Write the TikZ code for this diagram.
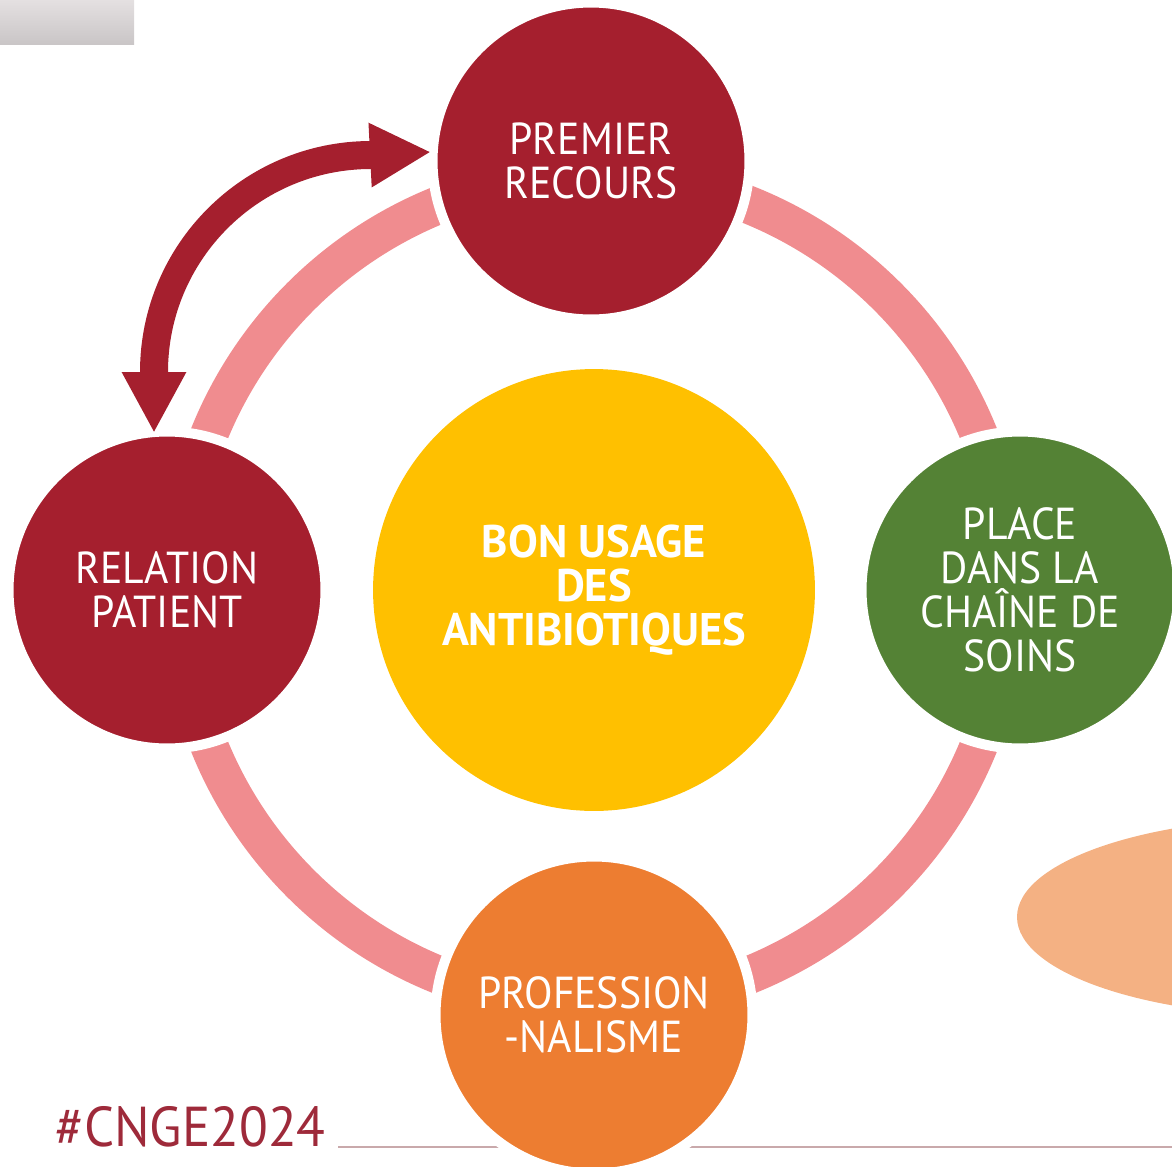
\documentclass[tikz,border=0pt]{standalone}
\usepackage{fontspec}
\setmainfont{PT Sans}
\newfontfamily\bubblefont{PT Sans}[FakeStretch=0.93]
\newfontfamily\hubfont{PT Sans}[FakeStretch=0.975]
\newfontfamily\tagfont{PT Sans}[FakeStretch=0.94]
\usetikzlibrary{arrows.meta}
\definecolor{dred}{HTML}{A51F2E}
\definecolor{ringpink}{HTML}{F08C8F}
\definecolor{dgreen}{HTML}{548235}
\definecolor{orng}{HTML}{ED7D31}
\definecolor{yell}{HTML}{FFC000}
\definecolor{peach}{HTML}{F4B183}
\definecolor{tagred}{HTML}{9E2A3A}
\definecolor{linecol}{HTML}{C9A9AB}
\definecolor{bartop}{HTML}{E4E0E1}
\definecolor{barbot}{HTML}{C9C5C6}
\tikzset{
  x=0.02cm, y=-0.02cm,
  bubble/.style={circle, minimum size=6.34cm, inner sep=0pt, draw=white, line width=0.2cm,
    text=white, align=center, font=\bubblefont\fontsize{25.5}{25}\selectfont},
  hub/.style={circle, minimum size=8.84cm, inner sep=0pt, fill=yell,
    text=white, align=center, font=\hubfont\bfseries\fontsize{26}{25}\selectfont},
}
\begin{document}
\begin{tikzpicture}
\useasboundingbox (0,0) rectangle (1172,1166);
% top-left gray bar
\shade[top color=bartop, bottom color=barbot] (0,0) rectangle (134,45);
% peach blob
\fill[peach] (1300,917) ellipse (283 and 99);
% footer line
\coordinate (l1) at (338,1147);
\coordinate (l2) at (1172,1147);
\draw[linecol, line width=0.04cm] (l1) -- (l2);
% ring
\coordinate (c) at (594,590);
\draw[ringpink, line width=0.76cm] (c) circle (415);
% centre
\node[hub] (hub) at (594,590) {BON USAGE\\DES\\ANTIBIOTIQUES};
% nodes
\node[bubble, fill=dred] (top) at (591,161) {PREMIER\\RECOURS};
\node[bubble, fill=dred] (left) at (167,590) {RELATION\\PATIENT};
\node[bubble, fill=dgreen] (right) at (1020,590) {PLACE\\DANS LA\\CHAÎNE DE\\SOINS};
\node[bubble, fill=orng] (bottom) at (594,1015) {PROFESSION\\-NALISME};
% curved double arrow
\coordinate (a1) at (154,433);
\coordinate (a2) at (431,152);
\draw[dred, line width=0.56cm,
  {Triangle[length=1.22cm,width=1.2cm]}-{Triangle[length=1.22cm,width=1.2cm]}]
  (a1) -- (154,372) arc (180:270:217) -- (a2);
% hashtag
\node[text=tagred, font=\tagfont\fontsize{32}{32}\selectfont, anchor=base west, inner sep=0pt] (tag) at (55,1146) {\#CNGE2024};
\end{tikzpicture}
\end{document}
